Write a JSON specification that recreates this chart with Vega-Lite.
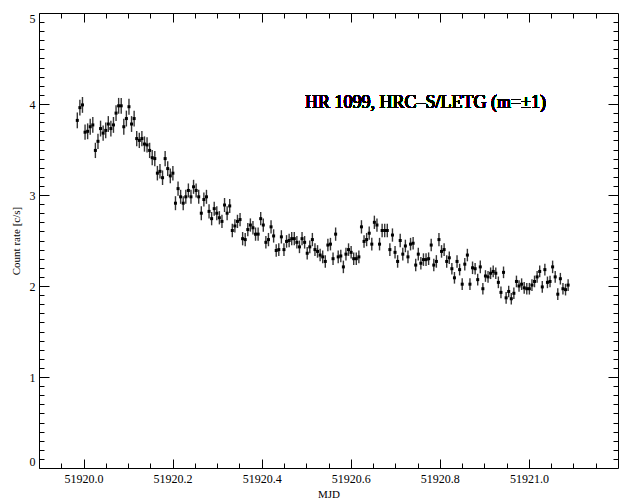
{
"$schema":"https://vega.github.io/schema/vega-lite/v6.json",
"width":579,"height":455,
"autosize":{"type":"none"},
"padding":{"left":39,"top":13,"right":1,"bottom":30},
"background":"white",
"config":{"view":{"stroke":"black","strokeWidth":1},"font":"Liberation Serif"},
"data":{"values":[
{"t":51919.986,"r":3.82,"e":0.087},{"t":51919.9918,"r":3.96,"e":0.087},{"t":51919.9976,"r":3.99,"e":0.087},{"t":51920.0034,"r":3.69,"e":0.084},{"t":51920.0092,"r":3.70,"e":0.087},{"t":51920.015,"r":3.75,"e":0.087},{"t":51920.0208,"r":3.77,"e":0.087},{"t":51920.0266,"r":3.49,"e":0.084},{"t":51920.0324,"r":3.59,"e":0.084},{"t":51920.0382,"r":3.73,"e":0.087},
{"t":51920.044,"r":3.68,"e":0.084},{"t":51920.0498,"r":3.71,"e":0.087},{"t":51920.0556,"r":3.78,"e":0.087},{"t":51920.0614,"r":3.73,"e":0.087},{"t":51920.0672,"r":3.77,"e":0.087},{"t":51920.073,"r":3.90,"e":0.087},{"t":51920.0788,"r":3.98,"e":0.087},{"t":51920.0846,"r":3.98,"e":0.087},{"t":51920.0904,"r":3.75,"e":0.087},{"t":51920.0962,"r":3.84,"e":0.087},
{"t":51920.102,"r":3.97,"e":0.087},{"t":51920.1078,"r":3.78,"e":0.087},{"t":51920.1136,"r":3.84,"e":0.087},{"t":51920.1194,"r":3.62,"e":0.084},{"t":51920.1252,"r":3.60,"e":0.084},{"t":51920.131,"r":3.62,"e":0.084},{"t":51920.1368,"r":3.56,"e":0.084},{"t":51920.1426,"r":3.55,"e":0.084},{"t":51920.1484,"r":3.49,"e":0.084},{"t":51920.1542,"r":3.41,"e":0.084},
{"t":51920.16,"r":3.40,"e":0.084},{"t":51920.1658,"r":3.24,"e":0.080},{"t":51920.1716,"r":3.26,"e":0.080},{"t":51920.1774,"r":3.19,"e":0.080},{"t":51920.1832,"r":3.40,"e":0.084},{"t":51920.189,"r":3.29,"e":0.080},{"t":51920.1948,"r":3.21,"e":0.080},{"t":51920.2006,"r":3.24,"e":0.080},{"t":51920.2064,"r":2.91,"e":0.077},{"t":51920.2122,"r":3.07,"e":0.077},
{"t":51920.218,"r":2.98,"e":0.077},{"t":51920.2238,"r":2.91,"e":0.077},{"t":51920.2296,"r":2.98,"e":0.077},{"t":51920.2354,"r":3.05,"e":0.077},{"t":51920.2412,"r":2.98,"e":0.077},{"t":51920.247,"r":3.09,"e":0.077},{"t":51920.2528,"r":3.05,"e":0.077},{"t":51920.2586,"r":2.98,"e":0.077},{"t":51920.2644,"r":2.80,"e":0.077},{"t":51920.2702,"r":2.95,"e":0.077},
{"t":51920.276,"r":2.98,"e":0.077},{"t":51920.2818,"r":2.82,"e":0.077},{"t":51920.2876,"r":2.74,"e":0.073},{"t":51920.2934,"r":2.85,"e":0.077},{"t":51920.2992,"r":2.80,"e":0.077},{"t":51920.305,"r":2.75,"e":0.073},{"t":51920.3108,"r":2.71,"e":0.073},{"t":51920.3166,"r":2.89,"e":0.077},{"t":51920.3224,"r":2.80,"e":0.077},{"t":51920.3282,"r":2.88,"e":0.077},
{"t":51920.334,"r":2.61,"e":0.073},{"t":51920.3398,"r":2.66,"e":0.073},{"t":51920.3456,"r":2.71,"e":0.073},{"t":51920.3514,"r":2.73,"e":0.073},{"t":51920.3572,"r":2.52,"e":0.073},{"t":51920.363,"r":2.51,"e":0.073},{"t":51920.3688,"r":2.62,"e":0.073},{"t":51920.3746,"r":2.67,"e":0.073},{"t":51920.3804,"r":2.64,"e":0.073},{"t":51920.3862,"r":2.57,"e":0.073},
{"t":51920.392,"r":2.57,"e":0.073},{"t":51920.3978,"r":2.74,"e":0.073},{"t":51920.4036,"r":2.67,"e":0.073},{"t":51920.4094,"r":2.48,"e":0.069},{"t":51920.4152,"r":2.51,"e":0.073},{"t":51920.421,"r":2.65,"e":0.073},{"t":51920.4268,"r":2.55,"e":0.073},{"t":51920.4326,"r":2.39,"e":0.069},{"t":51920.4384,"r":2.40,"e":0.069},{"t":51920.4442,"r":2.54,"e":0.073},
{"t":51920.45,"r":2.40,"e":0.069},{"t":51920.4558,"r":2.49,"e":0.069},{"t":51920.4616,"r":2.50,"e":0.073},{"t":51920.4674,"r":2.52,"e":0.073},{"t":51920.4732,"r":2.52,"e":0.073},{"t":51920.479,"r":2.48,"e":0.069},{"t":51920.4848,"r":2.43,"e":0.069},{"t":51920.4906,"r":2.52,"e":0.073},{"t":51920.4964,"r":2.48,"e":0.069},{"t":51920.5022,"r":2.36,"e":0.069},
{"t":51920.508,"r":2.43,"e":0.069},{"t":51920.5138,"r":2.51,"e":0.073},{"t":51920.5196,"r":2.40,"e":0.069},{"t":51920.5254,"r":2.38,"e":0.069},{"t":51920.5312,"r":2.34,"e":0.069},{"t":51920.537,"r":2.32,"e":0.069},{"t":51920.5428,"r":2.27,"e":0.069},{"t":51920.5486,"r":2.45,"e":0.069},{"t":51920.5544,"r":2.46,"e":0.069},{"t":51920.5602,"r":2.30,"e":0.069},
{"t":51920.566,"r":2.57,"e":0.073},{"t":51920.5718,"r":2.32,"e":0.069},{"t":51920.5776,"r":2.33,"e":0.069},{"t":51920.5834,"r":2.21,"e":0.069},{"t":51920.5892,"r":2.35,"e":0.069},{"t":51920.595,"r":2.40,"e":0.069},{"t":51920.6008,"r":2.37,"e":0.069},{"t":51920.6066,"r":2.30,"e":0.069},{"t":51920.6124,"r":2.30,"e":0.069},{"t":51920.6182,"r":2.32,"e":0.069},
{"t":51920.624,"r":2.65,"e":0.073},{"t":51920.6298,"r":2.49,"e":0.069},{"t":51920.6356,"r":2.51,"e":0.073},{"t":51920.6414,"r":2.58,"e":0.073},{"t":51920.6472,"r":2.46,"e":0.069},{"t":51920.653,"r":2.70,"e":0.073},{"t":51920.6588,"r":2.67,"e":0.073},{"t":51920.6646,"r":2.46,"e":0.069},{"t":51920.6704,"r":2.61,"e":0.073},{"t":51920.6762,"r":2.61,"e":0.073},
{"t":51920.682,"r":2.61,"e":0.073},{"t":51920.6878,"r":2.40,"e":0.069},{"t":51920.6936,"r":2.56,"e":0.073},{"t":51920.6994,"r":2.37,"e":0.069},{"t":51920.7052,"r":2.27,"e":0.069},{"t":51920.711,"r":2.50,"e":0.073},{"t":51920.7168,"r":2.35,"e":0.069},{"t":51920.7226,"r":2.44,"e":0.069},{"t":51920.7284,"r":2.32,"e":0.069},{"t":51920.7342,"r":2.46,"e":0.069},
{"t":51920.74,"r":2.47,"e":0.069},{"t":51920.7458,"r":2.23,"e":0.069},{"t":51920.7516,"r":2.35,"e":0.069},{"t":51920.7574,"r":2.25,"e":0.069},{"t":51920.7632,"r":2.29,"e":0.069},{"t":51920.769,"r":2.29,"e":0.069},{"t":51920.7748,"r":2.30,"e":0.069},{"t":51920.7806,"r":2.45,"e":0.069},{"t":51920.7864,"r":2.23,"e":0.069},{"t":51920.7922,"r":2.27,"e":0.069},
{"t":51920.798,"r":2.51,"e":0.073},{"t":51920.8038,"r":2.38,"e":0.069},{"t":51920.8096,"r":2.40,"e":0.069},{"t":51920.8154,"r":2.27,"e":0.069},{"t":51920.8212,"r":2.31,"e":0.069},{"t":51920.827,"r":2.19,"e":0.064},{"t":51920.8328,"r":2.09,"e":0.064},{"t":51920.8386,"r":2.27,"e":0.069},{"t":51920.8444,"r":2.18,"e":0.064},{"t":51920.8502,"r":2.02,"e":0.064},
{"t":51920.856,"r":2.24,"e":0.069},{"t":51920.8618,"r":2.34,"e":0.069},{"t":51920.8676,"r":2.02,"e":0.064},{"t":51920.8734,"r":2.20,"e":0.069},{"t":51920.8792,"r":2.19,"e":0.064},{"t":51920.885,"r":2.07,"e":0.064},{"t":51920.8908,"r":2.21,"e":0.069},{"t":51920.8966,"r":1.97,"e":0.064},{"t":51920.9024,"r":2.11,"e":0.064},{"t":51920.9082,"r":2.10,"e":0.064},
{"t":51920.914,"r":2.14,"e":0.064},{"t":51920.9198,"r":2.16,"e":0.064},{"t":51920.9256,"r":2.14,"e":0.064},{"t":51920.9314,"r":2.04,"e":0.064},{"t":51920.9372,"r":1.93,"e":0.064},{"t":51920.943,"r":2.15,"e":0.064},{"t":51920.9488,"r":1.87,"e":0.064},{"t":51920.9546,"r":1.94,"e":0.064},{"t":51920.9604,"r":1.86,"e":0.064},{"t":51920.9662,"r":1.92,"e":0.064},
{"t":51920.972,"r":2.05,"e":0.064},{"t":51920.9778,"r":2.00,"e":0.064},{"t":51920.9836,"r":2.02,"e":0.064},{"t":51920.9894,"r":1.98,"e":0.064},{"t":51920.9952,"r":1.97,"e":0.064},{"t":51921.001,"r":1.97,"e":0.064},{"t":51921.0068,"r":2.01,"e":0.064},{"t":51921.0126,"r":2.05,"e":0.064},{"t":51921.0184,"r":2.10,"e":0.064},{"t":51921.0242,"r":2.16,"e":0.064},
{"t":51921.03,"r":1.99,"e":0.064},{"t":51921.0358,"r":2.18,"e":0.064},{"t":51921.0416,"r":2.04,"e":0.064},{"t":51921.0474,"r":2.05,"e":0.064},{"t":51921.0532,"r":2.21,"e":0.069},{"t":51921.059,"r":2.10,"e":0.064},{"t":51921.0648,"r":1.91,"e":0.064},{"t":51921.0706,"r":2.08,"e":0.064},{"t":51921.0764,"r":1.97,"e":0.064},{"t":51921.0822,"r":1.96,"e":0.064},
{"t":51921.088,"r":2.01,"e":0.064}
]},
"layer":[
{"mark":{"type":"errorbar","color":"black","thickness":1.4,"opacity":0.8},
 "encoding":{
  "x":{"field":"t","type":"quantitative","scale":{"domain":[51919.9,51921.2],"nice":false,"zero":false},
   "axis":{"orient":"bottom","values":[51919.95,51920,51920.05,51920.1,51920.15,51920.2,51920.25,51920.3,51920.35,51920.4,51920.45,51920.5,51920.55,51920.6,51920.65,51920.7,51920.75,51920.8,51920.85,51920.9,51920.95,51921,51921.05,51921.1,51921.15],
    "tickSize":{"condition":{"test":"abs(datum.value*5-round(datum.value*5))<0.001","value":-9},"value":-5},
    "labelExpr":"abs(datum.value*5-round(datum.value*5))<0.001 ? format(datum.value,'.1f') : ''",
    "labelPadding":14,"labelFontSize":12,"labelColor":"black","labelFont":"Liberation Serif","labelOverlap":false,"labelFlush":false,
    "title":"MJD","titleFontSize":11,"titleFontWeight":"normal","titleColor":"black","titleFont":"Liberation Serif","titlePadding":0,
    "domain":false,"grid":false,"tickColor":"black","tickWidth":1}},
  "y":{"field":"r","type":"quantitative","scale":{"domain":[0,5],"nice":false,"zero":false},
   "axis":{"orient":"left","values":[0,0.1,0.2,0.3,0.4,0.5,0.6,0.7,0.8,0.9,1,1.1,1.2,1.3,1.4,1.5,1.6,1.7,1.8,1.9,2,2.1,2.2,2.3,2.4,2.5,2.6,2.7,2.8,2.9,3,3.1,3.2,3.3,3.4,3.5,3.6,3.7,3.8,3.9,4,4.1,4.2,4.3,4.4,4.5,4.6,4.7,4.8,4.9,5],
    "tickSize":{"condition":{"test":"abs(datum.value-round(datum.value))<0.001","value":-10},"value":-5},
    "labelExpr":"abs(datum.value-round(datum.value))<0.001 ? format(datum.value,'d') : ''",
    "labelPadding":14,"labelFontSize":12,"labelColor":"black","labelFont":"Liberation Serif","labelOverlap":false,"labelFlush":true,
    "title":"Count rate [c/s]","titleFontSize":11,"titleFontWeight":"normal","titleColor":"black","titleFont":"Liberation Serif","titlePadding":8,
    "domain":false,"grid":false,"tickColor":"black","tickWidth":1}},
  "yError":{"field":"e"}}},
{"mark":{"type":"square","size":9,"filled":true,"color":"black","opacity":1},
 "encoding":{
  "x":{"field":"t","type":"quantitative",
   "axis":{"orient":"top","values":[51919.95,51920,51920.05,51920.1,51920.15,51920.2,51920.25,51920.3,51920.35,51920.4,51920.45,51920.5,51920.55,51920.6,51920.65,51920.7,51920.75,51920.8,51920.85,51920.9,51920.95,51921,51921.05,51921.1,51921.15],
    "tickSize":{"condition":{"test":"abs(datum.value*5-round(datum.value*5))<0.001","value":-9},"value":-5},
    "labels":false,"title":null,"domain":false,"grid":false,"tickColor":"black","tickWidth":1}},
  "y":{"field":"r","type":"quantitative",
   "axis":{"orient":"right","values":[0.1,0.2,0.3,0.4,0.5,0.6,0.7,0.8,0.9,1,1.1,1.2,1.3,1.4,1.5,1.6,1.7,1.8,1.9,2,2.1,2.2,2.3,2.4,2.5,2.6,2.7,2.8,2.9,3,3.1,3.2,3.3,3.4,3.5,3.6,3.7,3.8,3.9,4,4.1,4.2,4.3,4.4,4.5,4.6,4.7,4.8,4.9],
    "tickSize":{"condition":{"test":"abs(datum.value-round(datum.value))<0.001","value":-10},"value":-5},
    "labels":false,"title":null,"domain":false,"grid":false,"tickColor":"black","tickWidth":1}}}},
{"mark":{"type":"text","align":"left","baseline":"alphabetic","font":"Liberation Serif","fontSize":18,"fontWeight":"normal","color":"black"},
 "encoding":{
  "x":{"datum":51920.497,"type":"quantitative","axis":null},
  "y":{"datum":3.96,"type":"quantitative","axis":null},
  "text":{"value":"HR 1099, HRC–S/LETG (m=±1)"}}}
],
"resolve":{"axis":{"x":"independent","y":"independent"}}
}
